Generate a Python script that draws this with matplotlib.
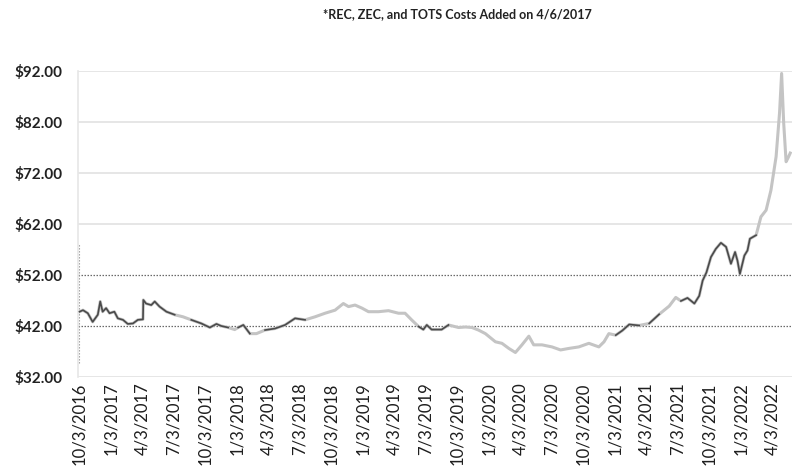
import matplotlib
matplotlib.use("Agg")
import matplotlib.pyplot as plt
import numpy as np
import pandas as pd

# ---------------- data ----------------
title = "*REC, ZEC, and TOTS Costs Added on 4/6/2017"

dates = [
    "2016-10-03", "2016-10-13", "2016-10-27", "2016-11-10", "2016-11-25", "2016-12-02",
    "2016-12-09", "2016-12-19", "2016-12-29", "2017-01-12", "2017-01-22", "2017-02-06",
    "2017-02-20", "2017-03-07", "2017-03-21", "2017-04-05", "2017-04-06", "2017-04-14",
    "2017-04-29", "2017-05-09", "2017-05-23", "2017-06-12", "2017-07-06", "2017-07-30",
    "2017-08-23", "2017-09-21", "2017-10-16", "2017-11-04", "2017-11-18", "2017-12-08",
    "2017-12-27", "2018-01-06", "2018-01-21", "2018-02-09", "2018-02-28", "2018-03-25",
    "2018-04-23", "2018-05-22", "2018-06-20", "2018-07-19", "2018-08-17", "2018-09-15",
    "2018-10-14", "2018-11-07", "2018-11-22", "2018-12-11", "2018-12-31", "2019-01-19",
    "2019-02-17", "2019-03-18", "2019-04-16", "2019-05-05", "2019-05-24", "2019-06-13",
    "2019-06-27", "2019-07-07", "2019-07-21", "2019-08-19", "2019-09-08", "2019-10-07",
    "2019-10-27", "2019-11-15", "2019-12-04", "2019-12-24", "2020-01-22", "2020-02-10",
    "2020-03-01", "2020-03-20", "2020-04-08", "2020-04-28", "2020-05-12", "2020-06-05",
    "2020-07-04", "2020-07-29", "2020-08-22", "2020-09-20", "2020-10-19", "2020-11-17",
    "2020-12-02", "2020-12-16", "2021-01-05", "2021-01-24", "2021-02-13", "2021-03-14",
    "2021-04-12", "2021-05-11", "2021-06-09", "2021-06-28", "2021-07-13", "2021-08-01",
    "2021-08-21", "2021-09-04", "2021-09-14", "2021-09-25", "2021-10-08", "2021-10-22",
    "2021-11-06", "2021-11-21", "2021-12-05", "2021-12-17", "2021-12-24", "2021-12-31",
    "2022-01-13", "2022-01-22", "2022-01-29", "2022-02-16", "2022-03-02", "2022-03-17",
    "2022-03-31", "2022-04-15", "2022-04-25", "2022-05-01", "2022-05-07", "2022-05-14",
    "2022-05-20", "2022-05-26",
]
prices = [
    44.8, 45.1, 44.5, 42.8, 44.2, 46.8,
    44.8, 45.5, 44.5, 44.8, 43.5, 43.2,
    42.4, 42.5, 43.2, 43.3, 47.1, 46.4,
    46.1, 46.8, 45.8, 44.8, 44.2, 43.8,
    43.2, 42.5, 41.7, 42.4, 42.0, 41.7,
    41.3, 41.7, 42.2, 40.5, 40.5, 41.2,
    41.5, 42.2, 43.5, 43.2, 43.8, 44.5,
    45.1, 46.4, 45.8, 46.1, 45.5, 44.8,
    44.8, 45.0, 44.5, 44.5, 43.2, 41.9,
    41.3, 42.2, 41.3, 41.3, 42.2, 41.7,
    41.8, 41.7, 41.2, 40.5, 38.9, 38.6,
    37.6, 36.8, 38.3, 40.0, 38.3, 38.3,
    37.9, 37.3, 37.6, 37.9, 38.6, 37.9,
    38.9, 40.5, 40.2, 41.1, 42.3, 42.1,
    42.5, 44.3, 45.9, 47.6, 46.9, 47.5,
    46.4, 47.9, 50.9, 52.5, 55.5, 57.1,
    58.3, 57.5, 54.2, 56.5, 54.8, 52.2,
    55.8, 56.8, 59.1, 59.8, 63.4, 64.7,
    68.6, 75.2, 83.8, 91.5, 81.8, 74.2,
    75.0, 75.9,
]

tick_dates = [
    "2016-10-03", "2017-01-03", "2017-04-03", "2017-07-03", "2017-10-03", "2018-01-03",
    "2018-04-03", "2018-07-03", "2018-10-03", "2019-01-03", "2019-04-03", "2019-07-03",
    "2019-10-03", "2020-01-03", "2020-04-03", "2020-07-03", "2020-10-03", "2021-01-03",
    "2021-04-03", "2021-07-03", "2021-10-03", "2022-01-03", "2022-04-03",
]
tick_labels = [
    "10/3/2016", "1/3/2017", "4/3/2017", "7/3/2017", "10/3/2017", "1/3/2018",
    "4/3/2018", "7/3/2018", "10/3/2018", "1/3/2019", "4/3/2019", "7/3/2019",
    "10/3/2019", "1/3/2020", "4/3/2020", "7/3/2020", "10/3/2020", "1/3/2021",
    "4/3/2021", "7/3/2021", "10/3/2021", "1/3/2022", "4/3/2022",
]
y_ticks = [32, 42, 52, 62, 72, 82, 92]
y_labels = ["$32.00", "$42.00", "$52.00", "$62.00", "$72.00", "$82.00", "$92.00"]
dotted_levels = [42, 52]

# darker-printed stretches of the scanned line (style only)
dark_ranges = [
    ("2016-10-01", "2017-06-12"), ("2017-08-10", "2017-12-05"),
    ("2018-01-01", "2018-01-25"), ("2018-03-10", "2018-07-15"),
    ("2019-06-05", "2019-08-25"), ("2021-01-01", "2021-02-15"),
    ("2021-04-08", "2021-05-05"), ("2021-07-08", "2022-01-30"),
]

# ---------------- plot ----------------
plt.rcParams["font.family"] = ["Lato", "DejaVu Sans"]
fig = plt.figure(figsize=(7.94, 4.76), dpi=100)
ax = fig.add_axes([0.098, 0.208, 0.899, 0.643])

x = pd.to_datetime(dates)
y = np.array(prices)

# light grid lines
for lv in y_ticks:
    if lv in dotted_levels:
        continue
    ax.axhline(lv, color="#e4e4e4", lw=1.3, zorder=0)
for lv in dotted_levels:
    ax.axhline(lv, color="#6a6a6a", lw=0.9, ls=(0, (1.2, 1.2)), zorder=1)

# vertical dotted marker at start
ax.vlines(pd.Timestamp("2016-10-02"), 34.7, 58.3, color="#9a9a9a", lw=0.8,
          ls=(0, (1.2, 1.5)), zorder=1)

ax.plot(x, y, color="#c4c4c4", lw=2.2, solid_joinstyle="round", zorder=2)
for s, e in dark_ranges:
    idx = np.where((x >= pd.Timestamp(s)) & (x <= pd.Timestamp(e)))[0]
    if len(idx) == 0:
        continue
    i0, i1 = max(idx[0], 0), min(idx[-1] + 1, len(x) - 1)
    ax.plot(x[i0:i1 + 1], y[i0:i1 + 1], color="#4a4a4a", lw=1.2, zorder=3)

ax.set_ylim(32, 92)
ax.set_xlim(pd.Timestamp("2016-09-28"), pd.Timestamp("2022-05-30"))
ax.set_yticks(y_ticks)
ax.set_yticklabels(y_labels, fontsize=11, fontweight="bold", color="#222222")
ax.set_xticks(pd.to_datetime(tick_dates))
ax.set_xticklabels(tick_labels, rotation=90, fontsize=12, color="#1e1e1e")
ax.tick_params(axis="both", length=0)
ax.tick_params(axis="y", pad=11)
ax.tick_params(axis="x", pad=4)

for side in ["top", "right", "bottom"]:
    ax.spines[side].set_visible(False)
ax.spines["left"].set_color("#e6e6e6")
ax.spines["left"].set_linewidth(1.2)

fig.text(0.576, 0.971, title, ha="center", va="center", fontsize=9,
         fontweight="bold", color="#222222")

fig.savefig("out.png", dpi=100)
